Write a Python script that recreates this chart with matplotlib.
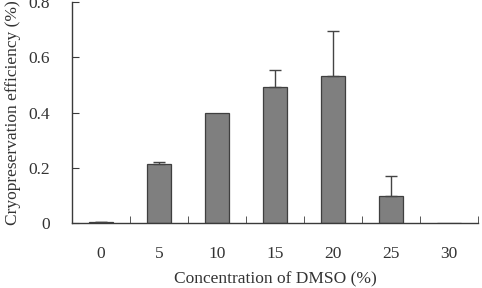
import matplotlib
matplotlib.use("Agg")
import matplotlib.pyplot as plt
import numpy as np

# data
conc = ["0", "5", "10", "15", "20", "25", "30"]
efficiency = [0.003, 0.214, 0.398, 0.492, 0.532, 0.097, 0.0]
err = [0.002, 0.009, 0.0, 0.062, 0.162, 0.073, 0.0]

plt.rcParams['font.family'] = ['Liberation Serif', 'DejaVu Serif']
axcol = '#3a3a3a'
fs = 12.5

fig = plt.figure(figsize=(4.82, 2.88), dpi=100)
ax = fig.add_axes([72/482, (288-223.3)/288, 406/482, (223.3-2)/288])

x = np.arange(len(conc))
eff = np.array(efficiency)
e = np.array(err)
ax.bar(x, eff, width=0.43, color='#7f7f7f', edgecolor='#3f3f3f', linewidth=0.9)
m = e > 0
ax.errorbar(x[m], eff[m], yerr=[np.zeros(m.sum()), e[m]], fmt='none',
            ecolor='#444444', elinewidth=1.0, capsize=4.5, capthick=1.0)

ax.set_xlim(-0.5, len(conc) - 0.5)
ax.set_ylim(0, 0.8)
ax.set_yticks([0, 0.2, 0.4, 0.6, 0.8])
ax.set_yticklabels(['0', '0.2', '0.4', '0.6', '0.8'])
ax.set_xticks(x)
ax.set_xticklabels(conc)
ax.set_xticks(np.arange(0.5, len(conc), 1.0), minor=True)

ax.spines['top'].set_visible(False)
ax.spines['right'].set_visible(False)
for s in ['left', 'bottom']:
    ax.spines[s].set_color(axcol)
    ax.spines[s].set_linewidth(1.0)

ax.tick_params(axis='y', direction='in', length=5, color=axcol, labelsize=fs,
               labelcolor='#333333', pad=16)
ax.tick_params(axis='x', which='major', length=0, labelsize=fs,
               labelcolor='#333333', pad=16)
ax.tick_params(axis='x', which='minor', direction='in', length=5, color=axcol)

ax.set_xlabel('Concentration of DMSO (%)', fontsize=fs, color='#333333', labelpad=7)
ax.set_ylabel('Cryopreservation efficiency (%)', fontsize=fs, color='#333333', labelpad=5)

fig.savefig('out.png', dpi=100)
